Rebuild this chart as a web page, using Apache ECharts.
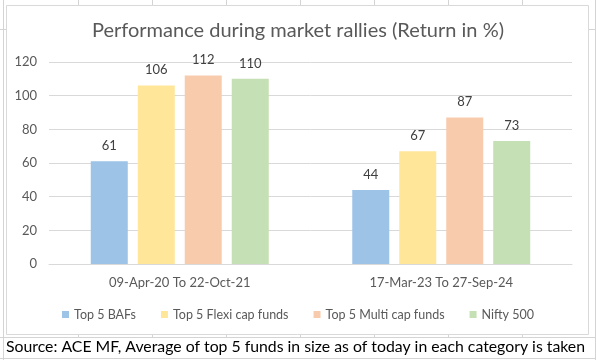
<!DOCTYPE html>
<html><head><meta charset="utf-8">
<script src="https://cdn.jsdelivr.net/npm/echarts@6/dist/echarts.min.js"></script>
<style>html,body{margin:0;padding:0;background:#fff}#c{width:596px;height:360px}</style>
</head><body><div id="c"></div>
<script>
const categories = ['09-Apr-20 To 22-Oct-21', '17-Mar-23 To 27-Sep-24'];
const seriesNames = ['Top 5 BAFs', 'Top 5 Flexi cap funds', 'Top 5 Multi cap funds', 'Nifty 500'];
const bafs = [61, 44];
const flexi = [106, 67];
const multi = [112, 87];
const nifty = [110, 73];
const colors = ['#9DC3E6', '#FFE699', '#F8CBAD', '#C5E0B4'];
const yTicks = [0, 20, 40, 60, 80, 100, 120];

const FONT = 'Lato';
const values = [bafs, flexi, multi, nifty];
const gl = '#d4d4d4';
const graphics = [];
// spreadsheet grid lines
[78, 152, 226, 300, 374, 448, 522].forEach(x => {
  graphics.push({type:'line', shape:{x1:x+0.5,y1:0,x2:x+0.5,y2:5}, style:{stroke:gl,lineWidth:1}, silent:true});
  graphics.push({type:'line', shape:{x1:x+0.5,y1:335,x2:x+0.5,y2:337}, style:{stroke:gl,lineWidth:1}, silent:true});
});
graphics.push({type:'line', shape:{x1:3.5,y1:0,x2:3.5,y2:360}, style:{stroke:gl}});
graphics.push({type:'line', shape:{x1:0,y1:29.5,x2:6,y2:29.5}, style:{stroke:gl}});
graphics.push({type:'line', shape:{x1:589,y1:29.5,x2:596,y2:29.5}, style:{stroke:gl}});
graphics.push({type:'line', shape:{x1:595.5,y1:0,x2:595.5,y2:360}, style:{stroke:gl}});
graphics.push({type:'line', shape:{x1:0,y1:337.5,x2:596,y2:337.5}, style:{stroke:gl}});
graphics.push({type:'line', shape:{x1:0,y1:358.5,x2:596,y2:358.5}, style:{stroke:gl}});
graphics.push({type:'rect', shape:{x:6.5,y:5.5,width:582,height:329}, style:{fill:'#fff',stroke:'#d9d9d9',lineWidth:1}, z:-1});
graphics.push({type:'text', left:6, top:339, style:{text:'Source: ACE MF, Average of top 5 funds in size as of today in each category is taken', fill:'#000', font:'15.8px ' + FONT}});

const chart = echarts.init(document.getElementById('c'), null, {renderer:'canvas'});
chart.setOption({
  animation:false,
  backgroundColor:'#fff',
  graphic: graphics,
  title:{text:'Performance during market rallies (Return in %)', left:'center', top:16,
    textStyle:{fontFamily:FONT, fontSize:20, fontWeight:'normal', color:'#595959'}},
  color: colors,
  legend:{data:seriesNames, top:303, left:'center', icon:'rect', itemWidth:7, itemHeight:7, itemGap:25,
    textStyle:{fontFamily:FONT, fontSize:12.5, color:'#595959'}},
  grid:{left:49, right:24, top:62, bottom:96, containLabel:false},
  xAxis:{type:'category', data:categories, axisTick:{show:false},
    axisLine:{lineStyle:{color:'#d9d9d9'}},
    axisLabel:{fontFamily:FONT, fontSize:13, color:'#595959', margin:12}},
  yAxis:{type:'value', min:0, max:120, interval:20,
    axisLabel:{fontFamily:FONT, fontSize:13, color:'#595959', margin:12},
    splitLine:{lineStyle:{color:'#d9d9d9'}}, axisLine:{show:false}, axisTick:{show:false}},
  series: seriesNames.map((n,i)=>({name:n, type:'bar', data:values[i], barWidth:37, barGap:'27%',
    label:{show:true, position:'top', distance:9, fontFamily:FONT, fontSize:13, color:'#404040'}}))
});
</script></body></html>
